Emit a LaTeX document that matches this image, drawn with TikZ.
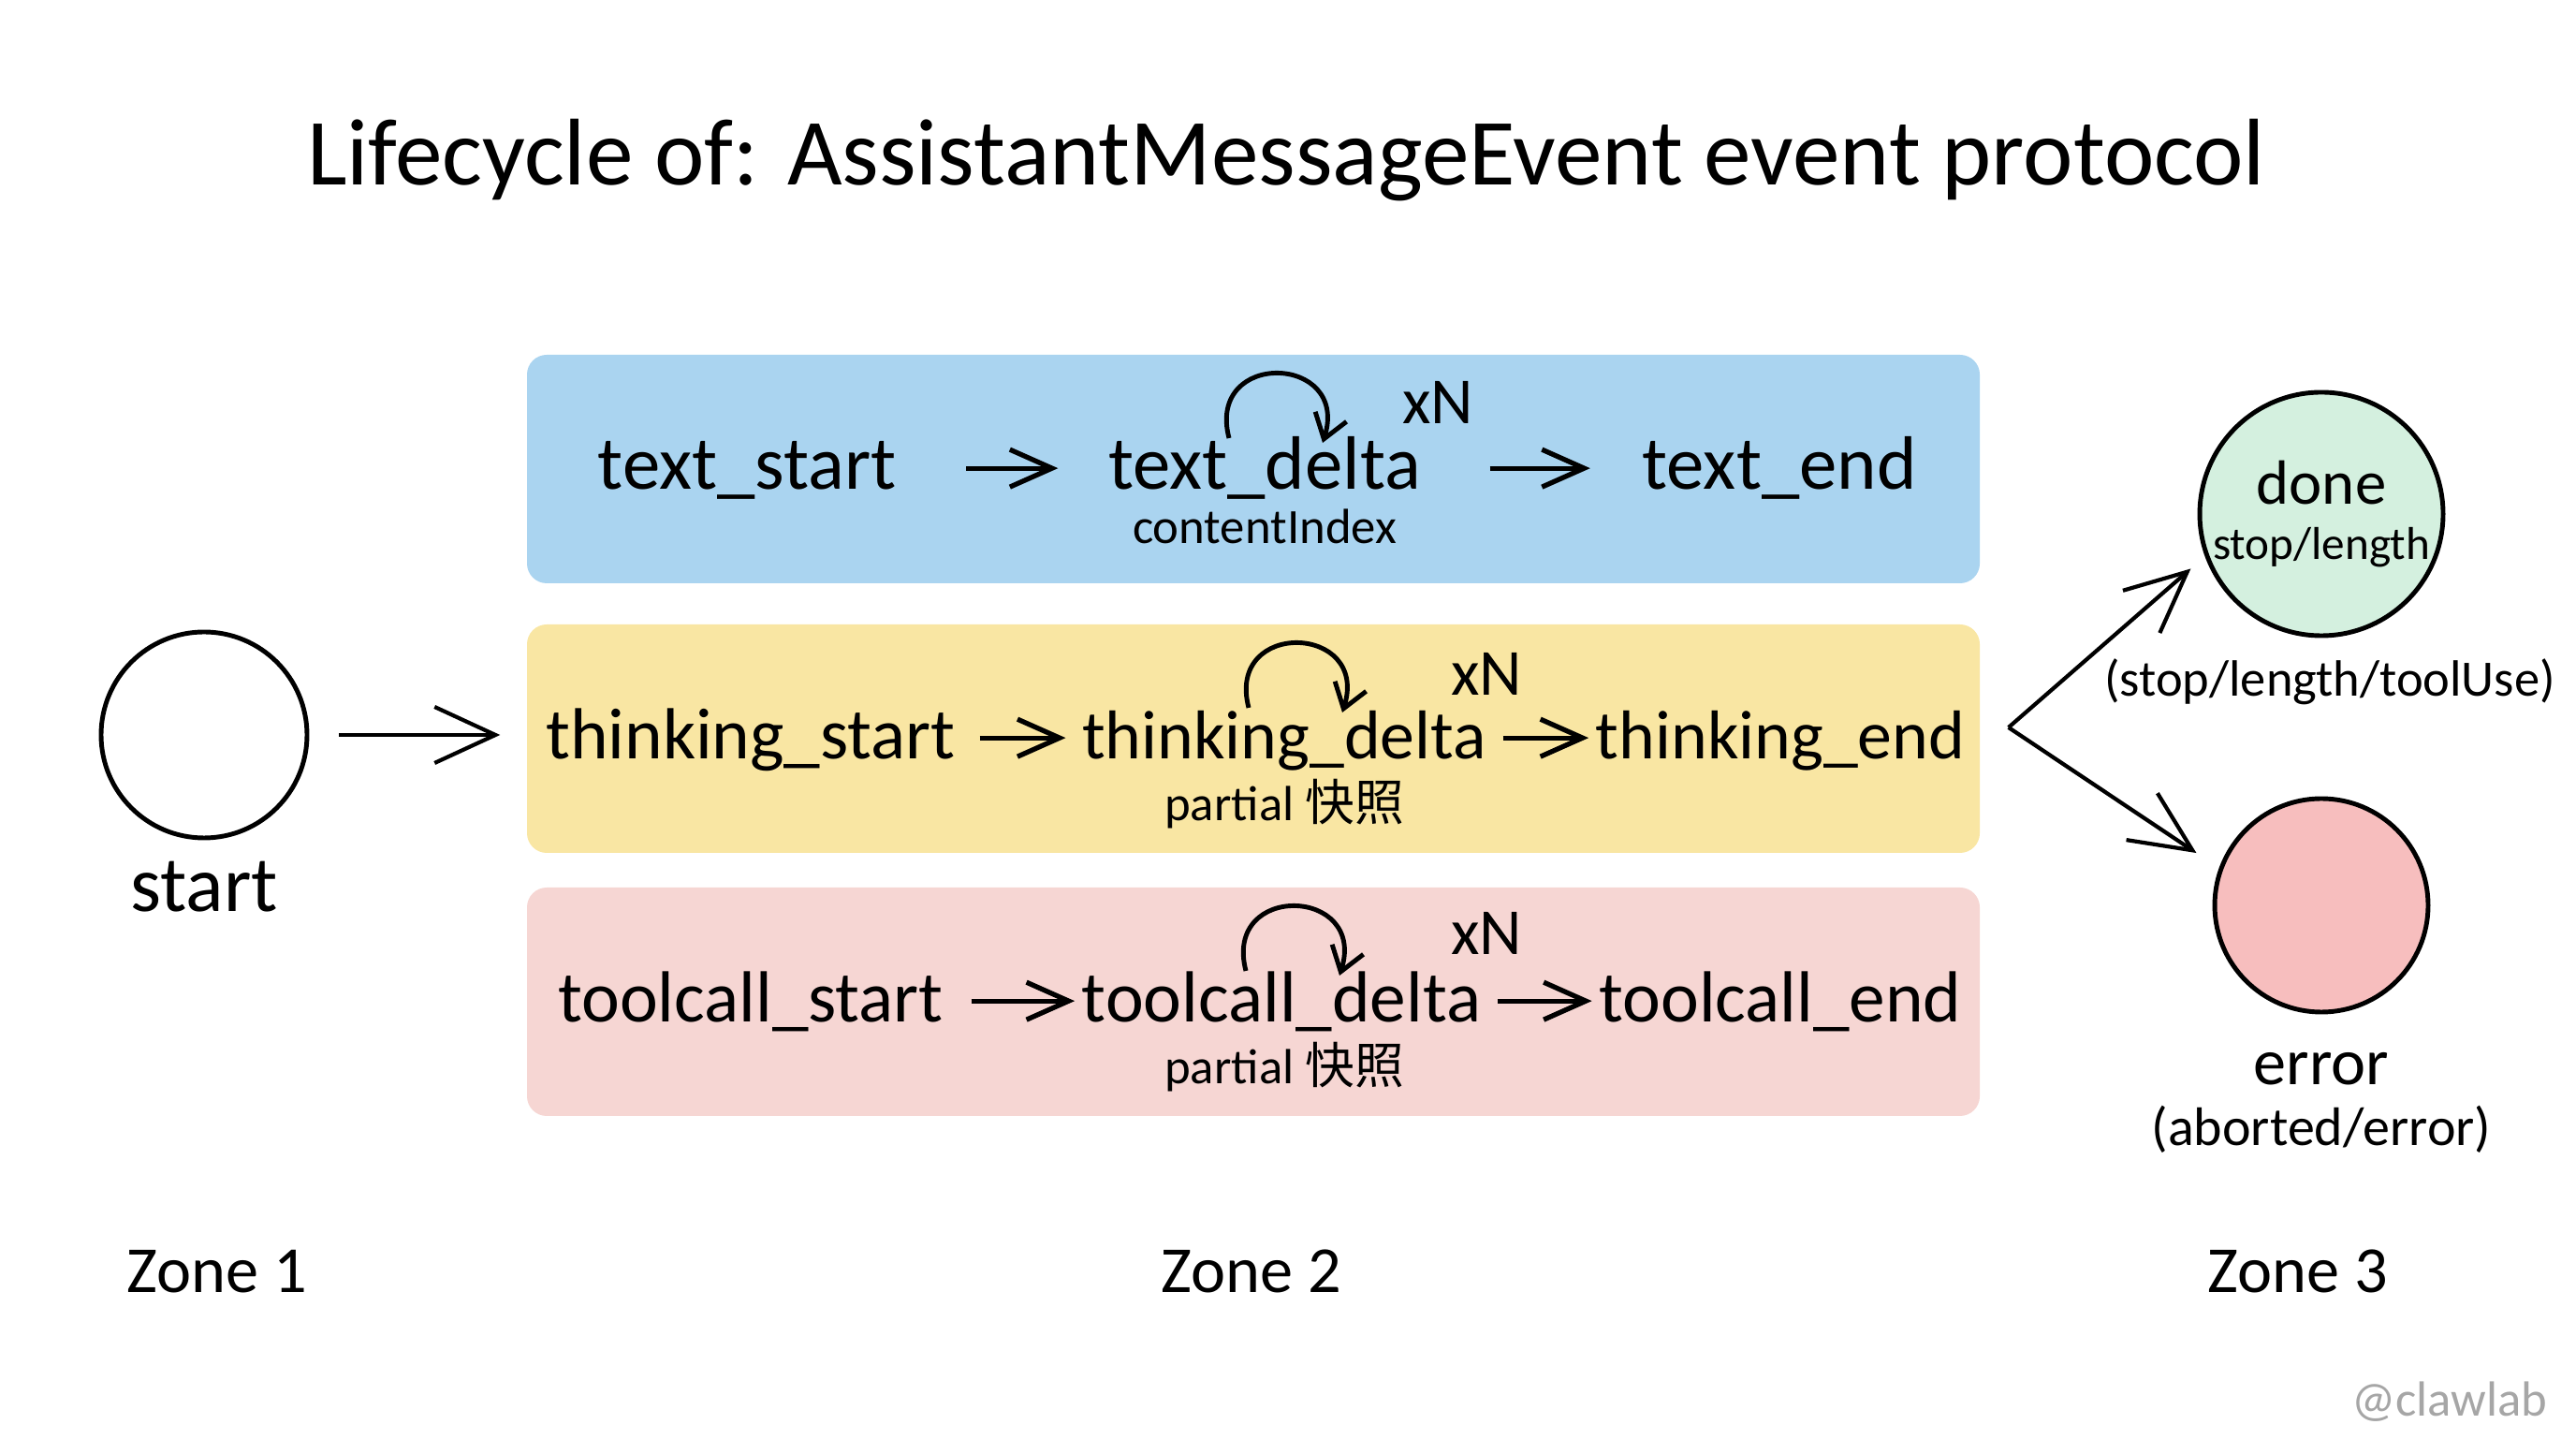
\documentclass[tikz,border=0pt]{standalone}
\usepackage{fontspec}
\setmainfont{Carlito}
\newfontfamily\cjk{Noto Sans CJK SC}
\usetikzlibrary{arrows.meta,positioning,calc}

\definecolor{bandblue}{RGB}{170,212,240}
\definecolor{bandyellow}{RGB}{249,230,163}
\definecolor{bandpink}{RGB}{246,214,211}
\definecolor{donegreen}{RGB}{212,240,223}
\definecolor{errorred}{RGB}{247,190,190}

\begin{document}
\begin{tikzpicture}[
  band/.style={rounded corners=6pt, minimum width=155.2mm, minimum height=24.4mm,
               inner sep=0pt},
  evt/.style={font=\fontsize{22}{24}\selectfont, text height=16pt, text depth=3pt,
              inner sep=2pt, anchor=base},
  bigevt/.style={evt, font=\fontsize{23}{25}\selectfont},
  smallevt/.style={evt, font=\fontsize{21}{23}\selectfont},
  sub/.style={font=\fontsize{15}{18}\selectfont, anchor=base},
  rep/.style={font=\fontsize{20}{22}\selectfont},
  zone/.style={font=\fontsize{20}{24}\selectfont, anchor=base},
  state/.style={circle, draw, line width=1.4pt, inner sep=0pt, align=center},
  flow/.style={-{Straight Barb[length=4.5mm,width=4mm]}, line width=1.5pt},
  loopy/.style={-{Straight Barb[length=2.5mm,width=3.5mm]}, line width=1.4pt},
  bigarrow/.style={-{Straight Barb[length=6.5mm,width=6mm]}, line width=1.2pt}
]
\useasboundingbox (0,0) rectangle (27.52,15.36);

% Title
\node[font=\fontsize{28.8}{32}\selectfont, anchor=base] (title) at (13.74,13.38)
  {Lifecycle of: AssistantMessageEvent event protocol};

% Zone 1: start
\node[state, minimum size=22mm] (start) at (2.18,7.51) {};
\node[font=\fontsize{24}{28}\selectfont, below=1mm of start] (startlbl) {start};

% Zone 2: three event bands
\node[band, fill=bandblue] (textband) at (13.39,10.35) {};
\node[band, fill=bandyellow] (thinkband) at (13.39,7.47) {};
\node[band, fill=bandpink] (toolband) at (13.39,4.66) {};

\draw[bigarrow, shorten <=3.2mm, shorten >=2.8mm] (start) -- (start -| thinkband.west);

% text events
\node[bigevt] (tstart) at (7.98,10.13) {text\_start};
\node[bigevt] (tdelta) at (13.51,10.13) {text\_delta};
\node[bigevt] (tend) at (19.01,10.13) {text\_end};
\node[sub] (tidx) at (13.51,9.55) {contentIndex};
\node[rep] (trep) at (15.36,11.06) {xN};
\draw[flow, shorten <=6.7mm, shorten >=4.6mm] (tstart) -- (tdelta);
\draw[flow, shorten <=6.6mm, shorten >=4.8mm] (tdelta) -- (tend);

% thinking events
\node[evt] (kstart) at (8.02,7.25) {thinking\_start};
\node[smallevt] (kdelta) at (13.72,7.25) {thinking\_delta};
\node[smallevt] (kend) at (19.02,7.25) {thinking\_end};
\node[sub] (kpart) at (13.72,6.59) {partial {\cjk 快照}};
\node[rep] (krep) at (15.88,8.16) {xN};
\draw[flow, shorten <=1.8mm, shorten >=1mm] (kstart) -- (kdelta);
\draw[flow, shorten <=1mm] (kdelta) -- (kend);

% toolcall events
\node[evt] (cstart) at (8.02,4.44) {toolcall\_start};
\node[evt] (cdelta) at (13.69,4.44) {toolcall\_delta};
\node[evt] (cend) at (19.02,4.44) {toolcall\_end};
\node[sub] (cpart) at (13.72,3.78) {partial {\cjk 快照}};
\node[rep] (crep) at (15.88,5.39) {xN};
\draw[flow, shorten <=2.2mm] (cstart) -- (cdelta);
\draw[flow, shorten <=1mm] (cdelta) -- (cend);

% repeated deltas
\foreach \d in {tdelta,kdelta,cdelta} {
  \draw[loopy] ($(\d.base)+(-0.38,0.55)$) .. controls +(-0.25,0.95) and +(0.3,0.95)
    .. ($(\d.base)+(0.62,0.5)$);
}

% Zone 3: terminal states
\node[state, fill=donegreen, minimum size=26mm, font=\fontsize{19}{17}\selectfont]
  (done) at (24.80,9.87) {done\\{\fontsize{14}{17}\selectfont stop/length}};
\node[font=\fontsize{15.5}{18}\selectfont, anchor=base] (donelbl) at (24.89,7.92)
  {(stop/length/toolUse)};
\node[state, fill=errorred, minimum size=22.8mm] (error) at (24.80,5.69) {};
\node[font=\fontsize{20}{18.5}\selectfont, align=center, below=2.8mm of error] (errlbl)
  {error\\{\fontsize{16.5}{18.5}\selectfont (aborted/error)}};

\coordinate (fork) at ($(thinkband.east)+(0.3,0.12)$);
\draw[bigarrow, shorten >=2mm] (fork) -- (done.200);
\draw[bigarrow, shorten >=2.9mm] (fork) -- (error.160);

% Zone labels
\node[zone] (zone1) at (2.32,1.55) {Zone 1};
\node[zone] (zone2) at (13.37,1.55) {Zone 2};
\node[zone] (zone3) at (24.55,1.55) {Zone 3};

\node[font=\fontsize{15}{18}\selectfont, text=black!35] (mark) at (26.17,0.39) {@clawlab};

\end{tikzpicture}
\end{document}
